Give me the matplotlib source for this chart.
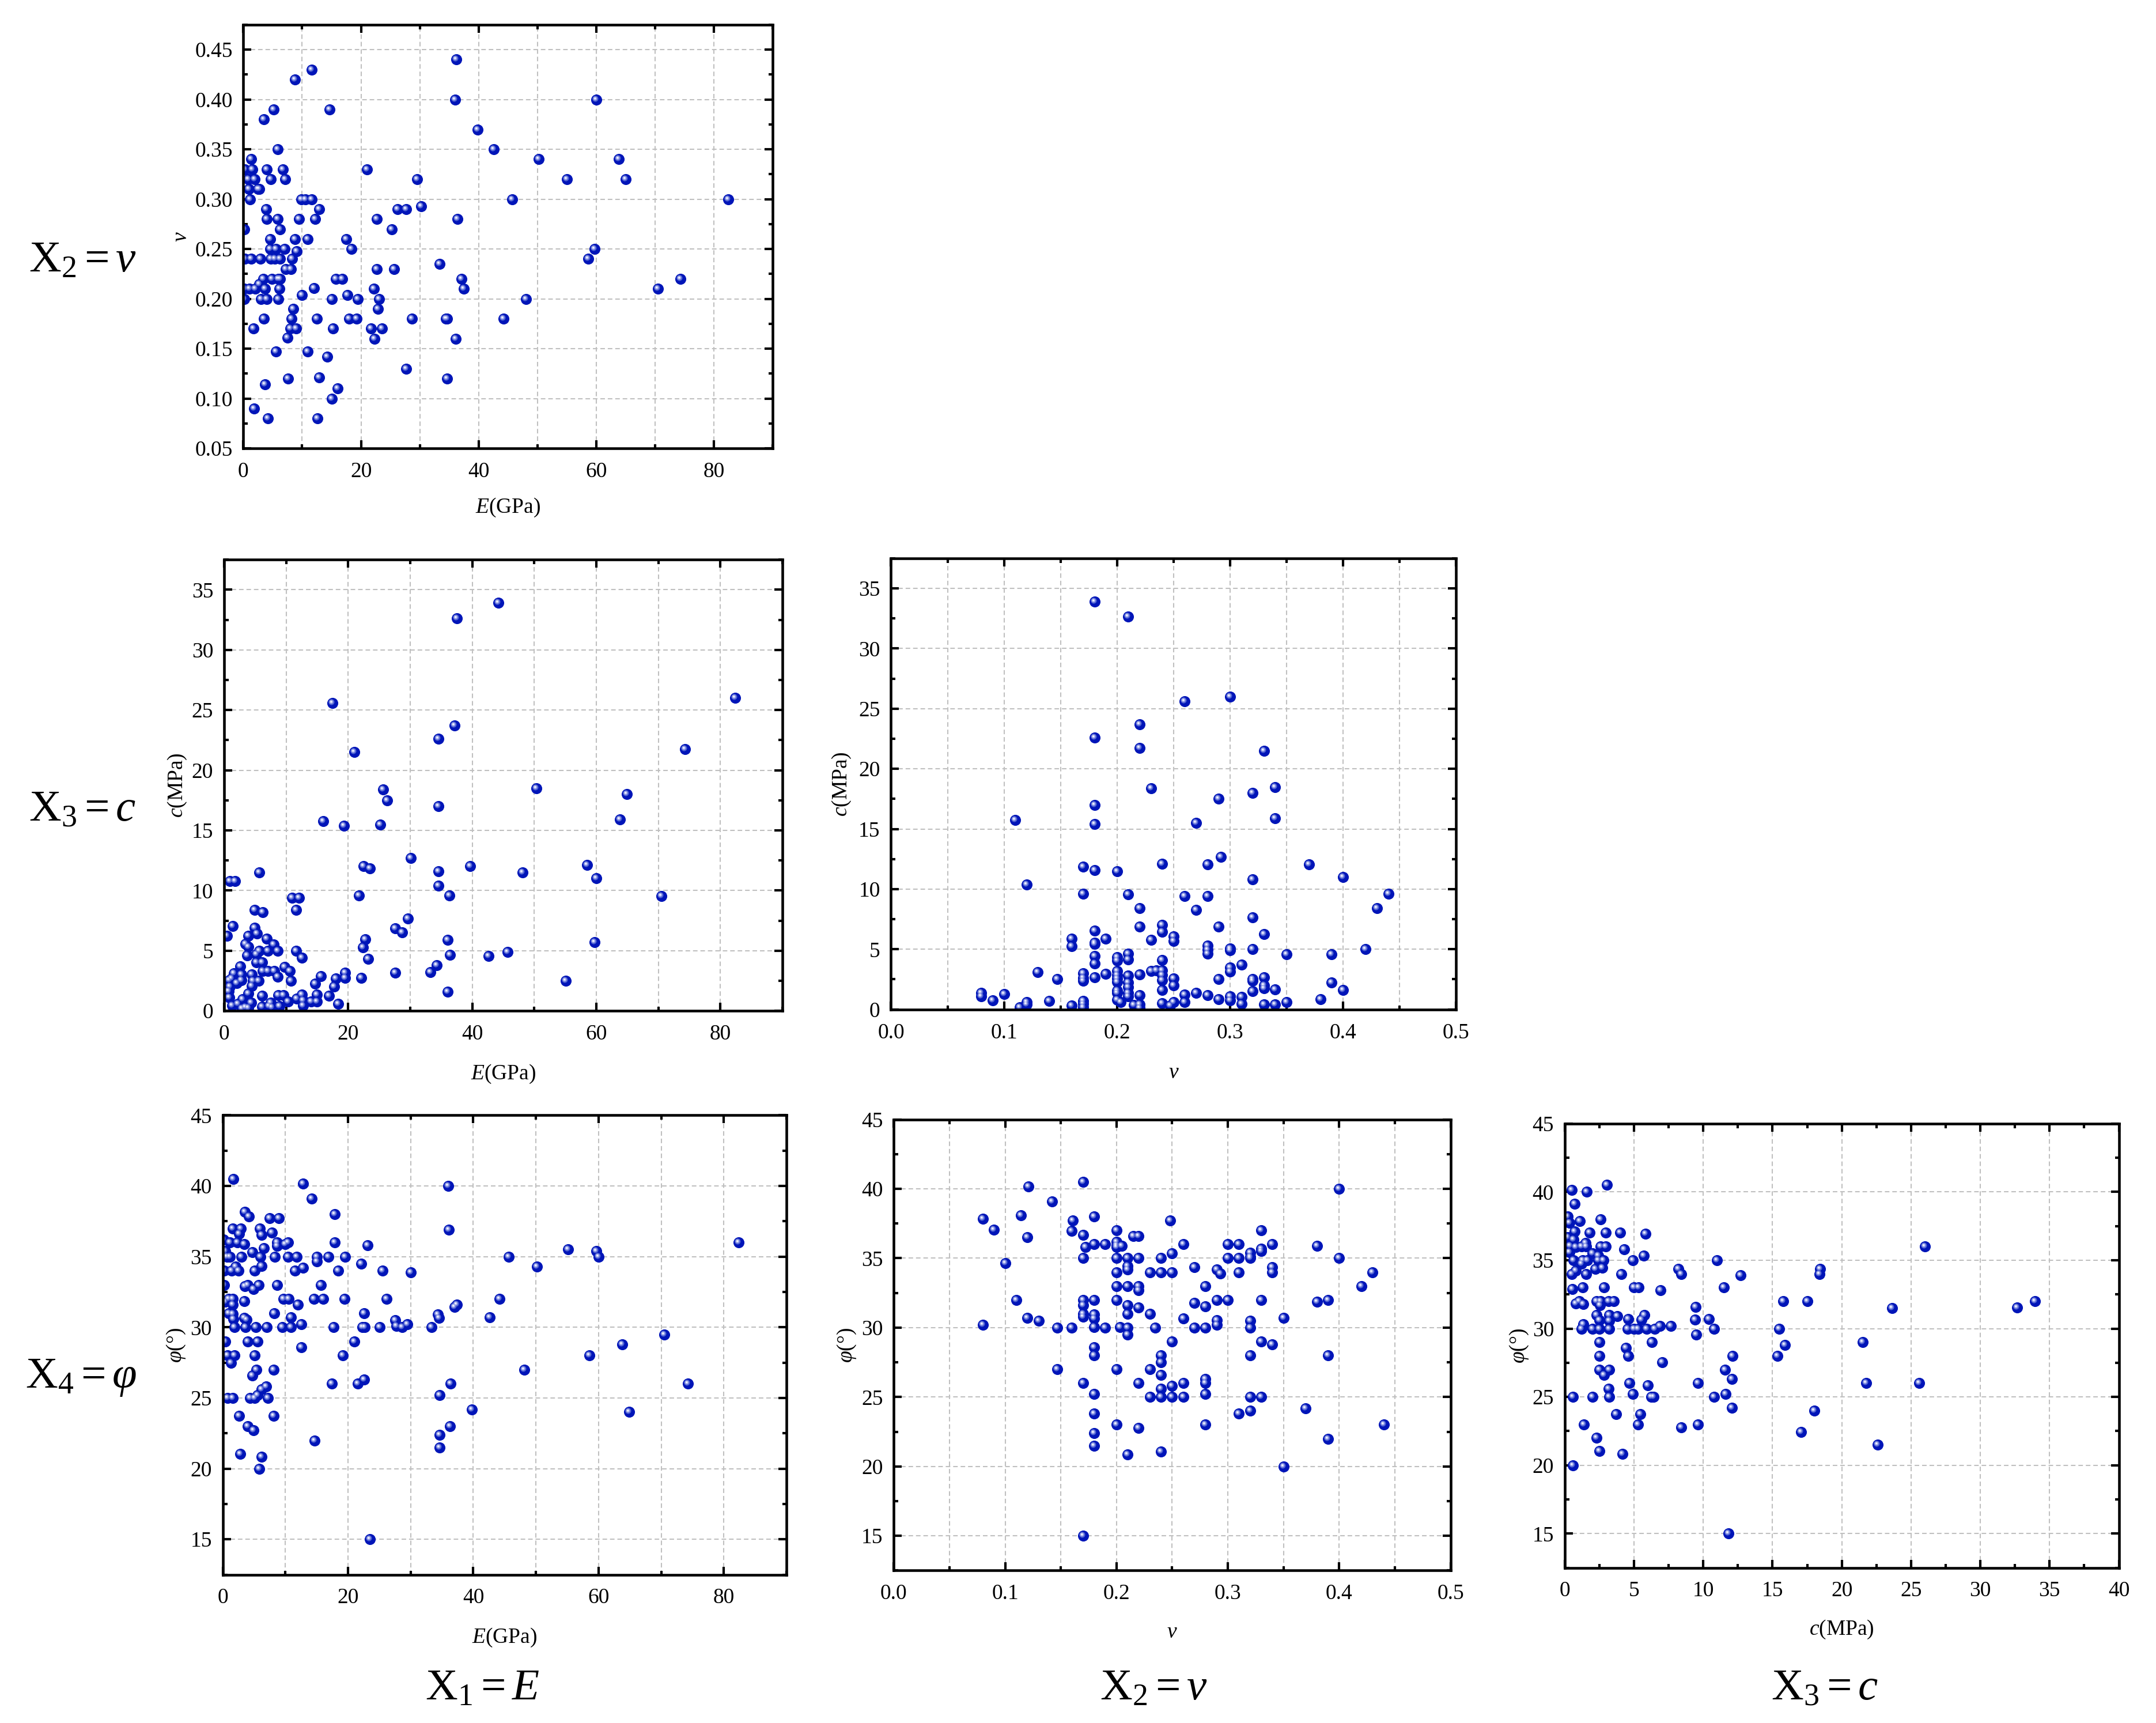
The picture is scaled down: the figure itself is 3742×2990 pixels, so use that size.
#%% pair plots of rock parameters (E, nu, c, phi)
import matplotlib
matplotlib.use('Agg')
import matplotlib.pyplot as plt
from matplotlib.markers import MarkerStyle
from matplotlib.ticker import MultipleLocator, FormatStrFormatter
from matplotlib.transforms import Affine2D

plt.rcParams.update({'font.family': 'Liberation Serif'})
plt.rcParams.update({'font.size': 9})
plt.rcParams.update({'mathtext.fontset': 'custom'})
plt.rcParams.update({'mathtext.rm': 'Liberation Serif'})
plt.rcParams.update({'mathtext.it': 'Liberation Serif:italic'})

# panel 1: nu against E
E_a = [36.25, 11.6, 8.75, 36, 60, 5.2, 14.7, 3.5, 39.8, 5.8, 42.6, 1.3, 50.2, 63.8, 0.3, 1.5, 4, 6.7, 21,
       0.8, 1.9, 4.7, 7.1, 29.5, 55, 65, 0.9, 2.5, 2.7, 1.1, 9.9, 10.5, 11.6, 45.7, 82.4,
       3.9, 12.9, 26.2, 27.7, 30.2, 4, 5.8, 9.5, 12.2, 22.7, 36.4, 0.2, 6.2, 25.2,
       4.6, 8.8, 10.9, 17.5, 4.6, 5.5, 7, 18.4, 59.7, 9.1,
       0.3, 1.3, 2.9, 4.7, 5.3, 6.2, 8.3, 58.6, 33.4, 7.2, 8.1, 22.7, 25.6,
       3.4, 4.9, 5.9, 6.2, 15.7, 16.8, 37.1, 74.3, 2.7,
       0.2, 1, 2, 3.7, 6.1, 12, 22.2, 37.5, 70.5,
       0.2, 3, 4, 5.9, 15, 19.5, 23.1, 48.1, 10, 17.7, 8.5, 22.9,
       3.5, 8.2, 12.5, 18, 19.3, 28.7, 34.4, 34.6, 44.2,
       1.7, 8, 9, 15.2, 21.7, 23.6, 7.5, 22.3, 36.1, 5.5, 10.9, 14.3, 27.7,
       7.6, 12.9, 34.6, 3.7, 16, 15, 1.8, 4.2, 12.6]
nu_a = [.44, .43, .42, .40, .40, .39, .39, .38, .37, .35, .35, .34, .34, .34, .33, .33, .33, .33, .33,
        .32, .32, .32, .32, .32, .32, .32, .31, .31, .31, .30, .30, .30, .30, .30, .30,
        .29, .29, .29, .29, .293, .28, .28, .28, .28, .28, .28, .27, .27, .27,
        .26, .26, .26, .26, .25, .25, .25, .25, .25, .248,
        .24, .24, .24, .24, .24, .24, .24, .24, .235, .23, .23, .23, .23,
        .22, .22, .22, .22, .22, .22, .22, .22, .215,
        .21, .21, .21, .21, .21, .211, .21, .21, .21,
        .20, .20, .20, .20, .20, .20, .20, .20, .204, .204, .19, .19,
        .18, .18, .18, .18, .18, .18, .18, .18, .18,
        .17, .17, .17, .17, .17, .17, .161, .16, .16, .147, .147, .142, .13,
        .12, .121, .12, .114, .11, .10, .09, .08, .08]

# panel 2: c against E
E_b = [44.2, 37.5, 17.5, 82.4, 37.2, 34.6, 21, 74.3, 25.6, 50.3, 26.3, 64.9, 34.6, 63.8, 16, 19.3, 25.2, 30.1,
       22.5, 23.5, 39.7, 58.5, 34.6, 48.1, 5.7, 0.9, 1.8, 60, 34.6, 21.7, 36.3, 70.5, 11, 12.1, 11.6, 4.9, 6.2,
       29.6, 1.4, 4.9, 27.6, 28.7, 5.3, 0.5, 3.9, 6.9, 22.8, 22.4, 36, 59.7, 3.4, 8, 3.9, 8.6, 5.7, 7.1, 11.6,
       45.7, 5.2, 3.7, 36.4, 42.6, 12.5, 23.2, 5.2, 6.1, 2.6, 34.3, 9.8, 10.6, 6.2, 7.1, 8.1, 33.3, 19.5, 27.6,
       1.6, 2.8, 4.5, 15.6, 8.6, 19.5, 22.1, 18, 1.2, 0.8, 2.8, 4.6, 5.6, 10.8, 55.1, 14.7, 2, 4.5, 17.7, 0.9,
       0.7, 36, 3.9, 15, 12.5, 6.1, 8.7, 9.6, 16.9, 0.8, 11.7, 12.7, 3, 15, 14, 10.3, 4.4, 2.2, 7.5, 18.4, 1.3,
       12.7, 7.2, 8.9, 6.1, 3.4, 2.9, 3.9, 7.7]
c_b = [33.9, 32.65, 25.6, 26, 23.7, 22.6, 21.5, 21.75, 18.4, 18.5, 17.5, 18, 17, 15.9, 15.75, 15.4, 15.5, 12.7,
       12.05, 11.85, 12.05, 12.1, 11.6, 11.5, 11.5, 10.8, 10.8, 11, 10.4, 9.6, 9.6, 9.55, 9.4, 9.4, 8.4, 8.4, 8.2,
       7.65, 7.05, 6.9, 6.85, 6.5, 6.4, 6.25, 6.25, 6, 5.95, 5.25, 5.9, 5.7, 5.55, 5.5, 5.3, 5, 5, 5, 5,
       4.9, 4.7, 4.6, 4.65, 4.55, 4.4, 4.3, 4.05, 4.05, 3.7, 3.8, 3.65, 3.3, 3.3, 3.3, 3.3, 3.2, 3.15, 3.15,
       3.1, 3, 3, 2.9, 2.85, 2.75, 2.75, 2.7, 2.7, 2.55, 2.55, 2.5, 2.5, 2.5, 2.5, 2.25, 2.3, 2.05, 2, 2,
       1.65, 1.6, 1.45, 1.35, 1.35, 1.25, 1.3, 1.3, 1.25, 1.1, 1, 0.85, 0.95, 0.75, 0.75, 0.75, 0.65, 0.6, 0.65, 0.6, 0.45,
       0.45, 0.4, 0.4, 0.35, 0.3, 0.2, 0.25, 0.3]

# panel 3: c against nu
nu_c = [.18, .21, .26, .30, .22, .18, .22, .33, .23, .34, .32, .29, .18, .34, .11, .18, .27, .292, .24, .28, .37,
        .17, .18, .20, .40, .32, .12, .17, .21, .26, .28, .44, .43, .22, .27, .32, .24, .22, .29, .18, .24, .33,
        .25, .16, .19, .23, .25, .18, .18, .16, .28, .28, .30, .30, .32, .42, .28, .35, .39, .21, .18, .20, .20,
        .21, .24, .18, .31, .30, .20, .23, .235, .24, .30, .13, .17, .19, .20, .21, .22, .24, .17, .18, .20, .33,
        .147, .24, .25, .29, .32, .17, .20, .21, .32, .39, .25, .33, .33, .21, .24, .34, .40, .20, .32, .20, .08,
        .10, .08, .21, .21, .22, .26, .27, .28, .30, .31, .38, .29, .30, .20, .09, .14, .17, .25, .26, .12, .203,
        .35, .24, .31, .12, .17, .215, .22, .33, .34, .247, .16, .114, .17, .22]
c_c = [33.9, 32.65, 25.6, 26, 23.7, 22.6, 21.75, 21.5, 18.4, 18.5, 18, 17.5, 17, 15.9, 15.75, 15.4, 15.5, 12.7, 12.1, 12.05, 12.05,
       11.85, 11.6, 11.5, 11, 10.8, 10.4, 9.6, 9.55, 9.4, 9.4, 9.6, 8.4, 8.4, 8.25, 7.65, 7.05, 6.9, 6.9, 6.55, 6.45, 6.25,
       6.05, 5.9, 5.9, 5.8, 5.7, 5.55, 5.45, 5.25, 5.3, 4.95, 5.05, 4.9, 5, 5, 4.65, 4.6, 4.6, 4.65, 4.45, 4.35, 4.05,
       4.15, 4.1, 3.8, 3.7, 3.5, 3.2, 3.2, 3.25, 3.25, 3.15, 3.1, 3, 2.95, 2.85, 2.8, 2.9, 2.85, 2.6, 2.65, 2.55, 2.65,
       2.5, 2.45, 2.55, 2.5, 2.5, 2.4, 2.3, 2.25, 2.4, 2.25, 2, 2, 1.75, 1.85, 1.6, 1.65, 1.6, 1.55, 1.5, 1.35, 1.35,
       1.3, 1.1, 1.35, 1.1, 1.2, 1.25, 1.35, 1.2, 1.1, 1.05, 0.85, 0.85, 0.75, 0.8, 0.75, 0.7, 0.7, 0.6, 0.6, 0.6, 0.6,
       0.6, 0.5, 0.45, 0.4, 0.45, 0.35, 0.4, 0.4, 0.4, 0.3, 0.3, 0.2, 0.2, 0.15]

# panel 4: phi against E
E_d = [1.7, 12.8, 36, 14.2, 17.9, 3.5, 4.2, 7.5, 9, 1.6, 2.9, 5.9, 36.1, 2.6, 7.9, 6.2, 0.1, 1.1, 2.3, 3.4, 8.7, 10,
       10.4, 17.9, 82.4, 23.1, 6.6, 8.7, 0.4, 55.1, 59.6, 4.7, 0.7, 1.1, 3, 6, 8.3, 10.4, 11.8, 15, 16.9, 19.5, 45.7, 60,
       15, 22.1, 6.2, 2.1, 50.2, 12.8, 0.2, 1.4, 2.5, 5.1, 11.5, 18.4, 25.5, 30, 0.2, 4, 5.7, 8.7, 15.7, 3.5, 4.9,
       1, 1.6, 9.7, 10.5, 14.6, 16, 19.4, 26.2, 44.2, 0.4, 3.4, 1.6, 12, 37.4, 37, 1, 1.6, 8.2, 22.6, 34.3, 3.4, 10.9,
       34.5, 42.6, 3.8, 1.7, 27.5, 12.5, 29.5, 27.7, 1.9, 3.6, 5.3, 7, 9.5, 10.9, 17.7, 22.3, 22.7, 25.1, 28.6, 33.3,
       0.4, 4, 5.6, 21, 70.5, 63.8, 12.5, 0.8, 1.9, 5.1, 19.2, 58.5, 1.3, 5.4, 8.1, 48.1, 4.7, 17.4, 21.6, 36.4, 74.3,
       22.6, 6.9, 6.2, 34.6, 5.6, 0.8, 1.6, 4.4, 5.1, 7.2, 39.8, 64.9, 2.6, 8.1, 36.3, 4, 4.9, 34.6, 14.7, 34.6, 2.8,
       6.2, 5.8, 23.5]
phi_d = [40.5, 40.15, 40, 39.1, 38, 38.15, 37.85, 37.7, 37.7, 37, 37, 37, 36.9, 36.6, 36.7, 36.55, 36.2, 36, 36, 35.9, 36, 35.9,
         36, 36, 36, 35.8, 35.6, 35.75, 35.4, 35.5, 35.4, 35.3, 35, 35, 35, 35, 35, 35, 35, 35, 35, 35, 35, 35,
         34.65, 34.5, 34.35, 34.3, 34.3, 34.2, 34, 34, 34, 34, 34, 34, 34, 33.9, 33, 33, 33, 33, 33, 32.9, 32.7,
         32, 32, 32, 32, 32, 32, 32, 32, 32, 31.8, 31.85, 31.6, 31.6, 31.6, 31.45, 31, 30.95, 31, 31, 30.9, 30.65, 30.7,
         30.65, 30.7, 30.55, 30.6, 30.5, 30.2, 30.2, 30.1, 30, 30, 30, 30, 30, 30, 30, 30, 30, 30, 30, 30,
         29, 29, 29, 29, 29.5, 28.8, 28.6, 28, 28, 28, 28, 28, 27.5, 27, 27, 27, 26.6, 26, 26, 26, 26,
         26.3, 25.8, 25.6, 25.2, 25.2, 25, 25, 25, 25, 25, 24.2, 24, 23.75, 23.75, 23, 23, 22.7, 22.4, 22, 21.5, 21.05,
         20.85, 20, 15]

# panel 5: phi against nu
nu_e = [.17, .121, .40, .142, .18, .08, .114, .161, .248, .09, .20, .33, .16, .17, .215, .22, .12, .20, .18, .19, .20, .205,
        .26, .30, .31, .34, .38, .172, .20, .33, .33, .32, .25, .32, .17, .20, .21, .22, .24, .30, .31, .32, .40, .10,
        .21, .27, .34, .21, .29, .20, .23, .24, .25, .31, .34, .43, .293, .20, .21, .22, .28, .42, .22, .11, .17, .18,
        .20, .29, .30, .33, .39, .38, .27, .17, .21, .28, .22, .17, .21, .23, .18, .17, .12, .18, .26, .35, .13, .29,
        .32, .08, .29, .18, .147, .16, .19, .203, .21, .235, .27, .28, .32, .21, .25, .33, .34, .18, .18, .24, .32, .39,
        .24, .147, .20, .23, .24, .28, .17, .22, .26, .28, .25, .24, .18, .28, .23, .24, .25, .26, .32, .33, .37, .32,
        .18, .31, .20, .28, .44, .22, .18, .39, .18, .24, .21, .35, .17]
phi_e = [40.5, 40.15, 40, 39.1, 38, 37.85, 38.1, 37.7, 37.7, 37.05, 37, 37, 36.95, 36.7, 36.6, 36.6, 36.5, 36.2, 36, 36, 35.95, 35.9,
         36, 36, 36, 36, 35.9, 35.8, 35.8, 35.7, 35.5, 35.4, 35.35, 35.1, 35, 35, 35, 35, 35, 35, 35, 35, 35, 34.65,
         34.45, 34.35, 34.35, 34.2, 34.2, 34, 34, 34, 34, 34, 34, 34, 33.9, 33, 33, 33, 33, 33, 32.7, 32, 32, 32,
         32, 32, 32, 32, 32, 31.85, 31.8, 31.6, 31.6, 31.55, 31.45, 31, 31, 31, 30.95, 30.8, 30.7, 30.65, 30.65, 30.7, 30.5, 30.55,
         30.5, 30.2, 30.2, 30.05, 30, 30, 30, 30.05, 30, 30, 30, 30, 30, 29.5, 29, 29, 28.8, 28.6, 28, 28, 28, 28,
         27.5, 27, 27, 27, 26.6, 26.3, 26, 26, 26, 26, 25.8, 25.6, 25.2, 25.2, 25, 25, 25, 25, 25, 25, 24.2, 24,
         23.8, 23.8, 23, 23, 23, 22.75, 22.4, 22, 21.5, 21.05, 20.85, 20, 15]

# panel 6: phi against c
c_f = [3.05, 0.5, 1.6, 0.7, 0.2, 2.6, 0.35, 1.1, 0.7, 1.8, 2.95, 4, 5.85, 0.2, 0.65, 1.5, 0.4, 1.2, 1.55, 2.6, 2.95, 26,
       0.8, 4.3, 0.35, 2, 5.7, 2.4, 0.65, 1.3, 1.65, 2.8, 4.9, 11, 2.4, 1.2, 2.7, 0.8, 2.2, 8.2, 18.45, 0.5, 1.55, 4.1,
       8.4, 18.4, 12.7, 0.55, 1.3, 2.85, 5, 5.35, 11.5, 6.9, 1.05, 2.3, 2.6, 3.15, 3.55, 15.75, 17.5, 33.95, 0.8, 1.35,
       2.55, 9.45, 32.65, 23.65, 2.3, 3.2, 5.75, 3.8, 4.6, 9.4, 10.4, 5.55, 2.5, 3.2, 1.35, 6.85, 7.65, 1.2, 2, 2.5, 3.2,
       4.55, 5, 5.3, 5.9, 6.5, 10.8, 15.5, 9.5, 2.5, 6.3, 21.5, 15.9, 4.4, 2.5, 4.6, 12.1, 15.35, 7.05, 2.5, 3.2, 11.55,
       2.85, 12.05, 4.65, 9.6, 21.75, 25.6, 6, 3.15, 4.9, 11.6, 0.6, 2, 3.2, 6.25, 6.4, 10.8, 12.05, 18, 3.7, 5.45, 1.4,
       5.3, 9.6, 8.4, 17.05, 2.3, 22.6, 2.5, 4.15, 0.6, 11.8]
phi_f = [40.5, 40.15, 40, 39.15, 38.2, 38, 37.75, 37.85, 37.1, 37, 37, 37, 36.95, 36.7, 36.5, 36.25, 36.05, 36, 36, 36, 36, 36,
         35.95, 35.8, 35.6, 35.5, 35.35, 35.35, 35, 35, 35, 35, 35, 35, 35, 34.75, 34.45, 34.25, 34.35, 34.35, 34.35, 34, 34, 34,
         34, 34, 33.9, 32.9, 33, 33, 33, 33, 33, 32.8, 32, 32, 32, 32, 32, 32, 32, 32, 31.85, 31.8,
         31.7, 31.6, 31.55, 31.5, 31, 31, 31, 30.9, 30.7, 30.65, 30.7, 30.65, 30.6, 30.55, 30.3, 30.2, 30.2, 30, 30, 30, 30,
         30, 30, 30, 30, 30, 30, 30, 29.55, 29, 29, 29, 28.8, 28.6, 28, 28, 28, 28, 27.55, 27, 27, 27,
         26.6, 26.3, 26, 26, 26, 26, 25.85, 25.6, 25.2, 25.2, 25, 25, 25, 25, 25, 25, 24.2, 24, 23.75, 23.75, 23,
         23, 23, 22.75, 22.45, 22, 21.5, 21.05, 20.85, 20, 15]

W, H = 3742, 2990
S = 3742 / 1568  # positions below were measured on a 1568 px wide view


def make_axes(left, right, top, bottom):
    return fig.add_axes([left*S/W, 1 - bottom*S/H, (right-left)*S/W, (bottom-top)*S/H])


def balls(ax, x, y):
    # shaded sphere: dark disc, pale rings, near white centre
    size = 21
    ms_mid = MarkerStyle('o', transform=Affine2D().scale(0.54).translate(-0.11, 0.11))
    ms_lit = MarkerStyle('o', transform=Affine2D().scale(0.36).translate(-0.13, 0.13))
    ms_top = MarkerStyle('o', transform=Affine2D().scale(0.17).translate(-0.14, 0.14))
    ax.scatter(x, y, s=size, marker='o', color='#0015b8', linewidths=0, zorder=3)
    ax.scatter(x, y, s=size, marker=ms_mid, color='#4f61d2', linewidths=0, zorder=3.1)
    ax.scatter(x, y, s=size, marker=ms_lit, color='#a0aaea', linewidths=0, zorder=3.2)
    ax.scatter(x, y, s=size, marker=ms_top, color='#f4f6ff', linewidths=0, zorder=3.3)


def style(ax, xlim, ylim, xmaj, xmin, ymaj, ymin, xfmt, yfmt, xlabel, ylabel, xlabel_y, ylabel_x, xgrid_minor=True):
    ax.set_xlim(xlim)
    ax.set_ylim(ylim)
    ax.autoscale(enable=False)
    ax.xaxis.set_major_locator(MultipleLocator(xmaj))
    ax.xaxis.set_minor_locator(MultipleLocator(xmin))
    ax.yaxis.set_major_locator(MultipleLocator(ymaj))
    ax.yaxis.set_minor_locator(MultipleLocator(ymin))
    ax.xaxis.set_major_formatter(FormatStrFormatter(xfmt))
    ax.yaxis.set_major_formatter(FormatStrFormatter(yfmt))
    ax.tick_params(which='major', direction='in', top=True, right=True, length=3.4, width=1.0, labelsize=9)
    ax.tick_params(which='minor', direction='in', top=True, right=True, length=1.8, width=1.0)
    ax.tick_params(axis='x', which='major', pad=5.6)
    ax.tick_params(axis='y', which='major', pad=4.5)
    for sp in ax.spines.values():
        sp.set_linewidth(1.1)
        sp.set_zorder(5)
    ax.set_axisbelow(True)
    grid_kw = dict(color='#c0c0c0', linewidth=0.5, linestyle=(0, (3.8, 2.4)))
    ax.grid(True, axis='y', which='major', **grid_kw)
    ax.grid(True, axis='x', which='major', **grid_kw)
    if xgrid_minor:
        ax.grid(True, axis='x', which='minor', **grid_kw)
    pos = ax.get_position()
    fig.text((pos.x0 + pos.x1)/2, 1 - xlabel_y*S/H, xlabel, ha='center', va='center', fontsize=9)
    fig.text(ylabel_x*S/W, (pos.y0 + pos.y1)/2, ylabel, ha='center', va='center', rotation=90, fontsize=9)


fig = plt.figure(figsize=(W/300, H/300))

ax1 = make_axes(177, 562, 18, 326)
balls(ax1, E_a, nu_a)
style(ax1, (0, 90), (0.05, 0.475), 20, 10, 0.05, 0.025, '%d', '%.2f', r'$E$(GPa)', r'$\nu$', 369, 132)

ax2 = make_axes(163, 569, 407, 735)
balls(ax2, E_b, c_b)
style(ax2, (0, 90), (0, 37.5), 20, 10, 5, 2.5, '%d', '%d', r'$E$(GPa)', r'$c$(MPa)', 781, 129)

ax3 = make_axes(648, 1059, 406, 734)
balls(ax3, nu_c, c_c)
style(ax3, (0, 0.5), (0, 37.5), 0.1, 0.05, 5, 2.5, '%.1f', '%d', r'$\nu$', r'$c$(MPa)', 780, 612)

ax4 = make_axes(162, 572, 811, 1145)
balls(ax4, E_d, phi_d)
style(ax4, (0, 90), (12.5, 45), 20, 10, 5, 2.5, '%d', '%d', r'$E$(GPa)', r'$\varphi$(°)', 1191, 128)

ax5 = make_axes(650, 1055, 814, 1142)
balls(ax5, nu_e, phi_e)
style(ax5, (0, 0.5), (12.5, 45), 0.1, 0.05, 5, 2.5, '%.1f', '%d', r'$\nu$', r'$\varphi$(°)', 1187, 616)

ax6 = make_axes(1138, 1541, 817, 1140)
balls(ax6, c_f, phi_f)
style(ax6, (0, 40), (12.5, 45), 5, 2.5, 5, 2.5, '%d', '%d', r'$c$(MPa)', r'$\varphi$(°)', 1185, 1105, xgrid_minor=False)

# row and column names
big = 18.5
fig.text(60*S/W, 1 - 190*S/H, r'$\mathrm{X}_2=\nu$', ha='center', va='center', fontsize=big)
fig.text(60*S/W, 1 - 589*S/H, r'$\mathrm{X}_3=c$', ha='center', va='center', fontsize=big)
fig.text(59*S/W, 1 - 1002*S/H, r'$\mathrm{X}_4=\varphi$', ha='center', va='center', fontsize=big)
fig.text(351*S/W, 1 - 1228*S/H, r'$\mathrm{X}_1=E$', ha='center', va='center', fontsize=big)
fig.text(839*S/W, 1 - 1228*S/H, r'$\mathrm{X}_2=\nu$', ha='center', va='center', fontsize=big)
fig.text(1327*S/W, 1 - 1228*S/H, r'$\mathrm{X}_3=c$', ha='center', va='center', fontsize=big)

plt.savefig('out.png', dpi=300)
